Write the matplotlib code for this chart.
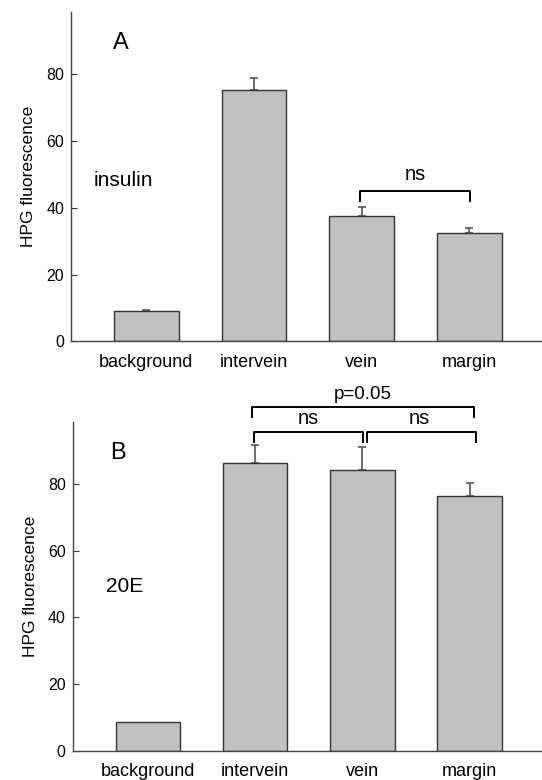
import matplotlib
matplotlib.use("Agg")
import matplotlib.pyplot as plt

plt.rcParams['font.family'] = ['Liberation Sans', 'DejaVu Sans']

categories = ["background", "intervein", "vein", "margin"]
insulin_vals = [9.1, 75.3, 37.6, 32.3]
insulin_err = [0.3, 3.6, 2.6, 1.5]
e20_vals = [8.8, 86.2, 84.1, 76.3]
e20_err = [0.0, 5.5, 6.8, 3.8]
yticks = [0, 20, 40, 60, 80]

fig = plt.figure(figsize=(5.42, 7.80), dpi=100)
ax1 = fig.add_axes([0.131, 0.5624, 0.869, 0.4222])
ax2 = fig.add_axes([0.134, 0.0372, 0.866, 0.4222])

bar_kw = dict(width=0.6, color="#c0c0c0", edgecolor="#333333", linewidth=1.0)
err_kw = dict(fmt="none", ecolor="#555555", elinewidth=1.2, capsize=3, capthick=1.2)

def style(ax):
    ax.set_xlim(-0.70, 3.674)
    ax.set_ylim(0, 98.6)
    ax.set_yticks(yticks)
    ax.set_xticks(range(len(categories)))
    ax.set_xticklabels(categories, fontsize=13)
    ax.tick_params(axis='x', length=0, pad=9)
    ax.tick_params(axis='y', direction='in', length=4, labelsize=11.5, color="#333333", pad=5)
    for s in ['top', 'right']:
        ax.spines[s].set_visible(False)
    for s in ['left', 'bottom']:
        ax.spines[s].set_color("#444444")
        ax.spines[s].set_linewidth(1.0)
    ax.set_ylabel("HPG fluorescence", fontsize=12.5, labelpad=7)

x = list(range(len(categories)))

# Panel A
ax1.bar(x, insulin_vals, **bar_kw, zorder=2)
ax1.errorbar(x, insulin_vals, yerr=[[0]*4, insulin_err], **err_kw, zorder=1)
style(ax1)
ax1.text(-0.31, 89.3, "A", fontsize=17, va='center', ha='left')
ax1.text(-0.49, 48.3, "insulin", fontsize=15, va='center', ha='left')
bl = dict(color="black", linewidth=1.4, clip_on=False)
ax1.plot([1.98, 1.98, 3.01, 3.01], [42.1, 45.1, 45.1, 42.1], **bl)
ax1.text(2.5, 47.0, "ns", fontsize=14.5, ha='center', va='bottom')

# Panel B
ax2.bar(x, e20_vals, **bar_kw, zorder=2)
ax2.errorbar(x[1:], e20_vals[1:], yerr=[[0]*3, e20_err[1:]], **err_kw, zorder=1)
style(ax2)
ax2.text(-0.35, 89.3, "B", fontsize=17, va='center', ha='left')
ax2.text(-0.39, 49.2, "20E", fontsize=15, va='center', ha='left')
ax2.plot([0.99, 0.99, 2.01, 2.01], [92.6, 95.6, 95.6, 92.6], **bl)
ax2.plot([2.04, 2.04, 3.06, 3.06], [92.6, 95.6, 95.6, 92.6], **bl)
ax2.plot([0.97, 0.97, 3.04, 3.04], [99.9, 103.0, 103.0, 99.9], **bl)
ax2.text(1.5, 96.6, "ns", fontsize=14.5, ha='center', va='bottom')
ax2.text(2.53, 96.6, "ns", fontsize=14.5, ha='center', va='bottom')
ax2.text(2.0, 104.2, "p=0.05", fontsize=13.5, ha='center', va='bottom')

fig.savefig("out.png", dpi=100)
